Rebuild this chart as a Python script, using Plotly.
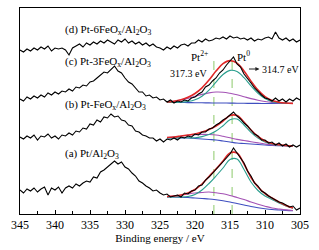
import plotly.graph_objects as go

# ---------------- data ----------------
BE = [345 - 0.5 * i for i in range(81)]          # binding energy grid, eV

spec_a = [24, 21, 25, 23, 26, 22, 25, 27, 19, 26, 24, 27, 21, 26, 28,
          26, 30, 28, 31, 33, 32, 37, 36, 42, 44, 47, 50, 53, 50, 52,
          47, 45, 41, 38, 33, 31, 28, 26, 23, 24, 21, 19, 20, 17, 18,
          19, 17, 21, 20, 23, 24, 28, 29, 34, 37, 41, 44, 49, 52, 57,
          60, 66, 61, 57, 51, 43, 38, 31, 28, 23, 21, 18, 16, 14, 12,
          11, 9, 7, 8, 4, 6]
spec_b = [77, 75, 78, 76, 79, 74, 78, 77, 80, 76, 78, 75, 79, 78, 81,
          79, 83, 82, 86, 85, 90, 89, 94, 92, 97, 96, 100, 97, 98, 94,
          93, 89, 88, 83, 82, 79, 78, 76, 76, 73, 75, 72, 75, 74, 76,
          74, 77, 76, 78, 77, 80, 79, 82, 82, 85, 86, 89, 91, 94, 96,
          99, 102, 98, 95, 91, 88, 84, 80, 78, 74, 74, 71, 72, 69, 71,
          68, 70, 67, 69, 67, 69]
spec_c = [115, 113, 117, 115, 118, 116, 119, 117, 121, 119, 122, 120, 123, 122, 125,
          123, 127, 126, 129, 128, 132, 133, 136, 139, 142, 141, 145, 148, 143, 141,
          136, 132, 130, 126, 122, 122, 118, 119, 116, 117, 114, 115, 112, 114, 111,
          113, 112, 114, 113, 116, 117, 120, 122, 127, 129, 133, 136, 141, 144, 149,
          153, 157, 150, 147, 140, 136, 131, 126, 122, 119, 116, 115, 113, 116, 113,
          115, 112, 115, 113, 116, 114]
spec_d = [164, 162, 165, 163, 166, 164, 167, 165, 168, 163, 166, 165, 166, 164, 159,
          166, 168, 170, 167, 171, 169, 172, 170, 173, 171, 174, 172, 170, 174, 172,
          175, 171, 173, 170, 172, 169, 171, 168, 170, 167, 166, 164, 167, 165, 168,
          166, 169, 170, 168, 171, 171, 174, 172, 175, 173, 174, 176, 175, 177, 175,
          178, 176, 177, 175, 176, 174, 176, 173, 175, 174, 176, 177, 175, 182, 176,
          174, 176, 173, 175, 172, 174]

FIT_BE = [324, 323, 322, 321, 320, 319, 318, 317, 316, 315,
          314, 313, 312, 311, 310, 309, 308, 307, 306]

base_a = [17, 17, 16.8, 16.5, 16, 15.5, 15, 14.2, 13.2, 12, 10.5, 9, 7.5, 6.3, 5.3, 4.5, 4, 3.6, 3.3]
pt2_a = [17.5, 18, 18.8, 20, 21, 21.5, 22, 21.2, 20.2, 18.5, 16.5, 14.5, 12, 9.8, 7.8, 6, 5, 4.1, 3.5]
pt0_a = [17, 17, 17, 17.5, 19.5, 24, 30.5, 38, 46, 54.5, 55, 44.5, 32, 23.5, 18, 14.5, 11, 8, 5.8]
sum_a = [17.5, 18, 19, 21, 24.5, 30, 37.5, 45, 53, 61, 61, 50, 36.5, 27, 20.5, 16, 12, 8.5, 6]

base_b = [76, 76, 76, 76, 75.5, 75, 74.5, 74, 73, 72, 71, 70.5, 70, 69.5, 69, 68.5, 68.3, 68.2, 68]
pt2_b = [76.5, 77, 77.8, 78.8, 79.3, 79.6, 79.5, 79, 77.7, 76.2, 74.6, 73.5, 72.3, 71.1, 70, 69.1, 68.6, 68.3, 68]
pt0_b = [76, 76, 76.2, 76.2, 76.2, 77.4, 79.5, 83, 88.3, 94.3, 94.9, 89, 81.7, 75.9, 72, 69.9, 68.9, 68.4, 68]
sum_b = [76.5, 77, 78, 79, 80, 82, 84.5, 88, 93, 98.5, 98.5, 92, 84, 77.5, 73, 70.5, 69.2, 68.5, 68]

base_c = [111.5, 111.5, 111.5, 111.4, 111.3, 111.2, 111.1, 111, 111, 110.9,
          110.8, 110.7, 110.6, 110.6, 110.5, 110.5, 110.5, 110.5, 110.5]
pt2_c = [112, 112.7, 114, 115.6, 117.6, 119.6, 121.1, 122, 121.8, 120.7,
         119.2, 117.3, 115.4, 113.8, 112.5, 111.6, 111.1, 110.8, 110.6]
pt0_c = [111.5, 111.6, 111.8, 112.5, 114.2, 117.8, 123.9, 131.9, 139.5, 143.6,
         142.4, 136.4, 128.1, 120.7, 115.4, 112.4, 111.2, 110.7, 110.5]
sum_c = [112, 112.8, 114.3, 116.7, 120.5, 126.2, 133.9, 142.9, 150.3, 153.4,
         150.8, 143, 132.9, 123.9, 117.4, 113.5, 111.8, 111, 110.6]

LABELS = ["(a) Pt/Al<sub>2</sub>O<sub>3</sub>",
          "(b) Pt-FeO<sub>x</sub>/Al<sub>2</sub>O<sub>3</sub>",
          "(c) Pt-3FeO<sub>x</sub>/Al<sub>2</sub>O<sub>3</sub>",
          "(d) Pt-6FeO<sub>x</sub>/Al<sub>2</sub>O<sub>3</sub>"]
LABEL_Y = [60, 109, 152, 184]
PT2_BE = 317.3
PT0_BE = 314.7
X_TICKS = [345, 340, 335, 330, 325, 320, 315, 310, 305]

# ---------------- figure ----------------
C_BASE = "#3f4fc0"
C_PT2 = "#a453b5"
C_PT0 = "#2a9e8e"
C_SUM = "#e02828"
C_DASH = "#8cc96a"
SERIF = "Liberation Serif, Times New Roman, serif"

fig = go.Figure()

for base, pt2, pt0, tot in [(base_a, pt2_a, pt0_a, sum_a),
                            (base_b, pt2_b, pt0_b, sum_b),
                            (base_c, pt2_c, pt0_c, sum_c)]:
    for ys, col, w in [(base, C_BASE, 1.1), (pt2, C_PT2, 1.1), (pt0, C_PT0, 1.1), (tot, C_SUM, 1.6)]:
        fig.add_trace(go.Scatter(x=FIT_BE, y=ys, mode="lines",
                                 line=dict(color=col, width=w, shape="spline"),
                                 hoverinfo="skip"))

for spec in [spec_a, spec_b, spec_c, spec_d]:
    fig.add_trace(go.Scatter(x=BE, y=spec, mode="lines",
                             line=dict(color="black", width=1.1)))

for be in [PT2_BE, PT0_BE]:
    fig.add_shape(type="line", xref="x", yref="y", x0=be, x1=be, y0=0, y1=161,
                  line=dict(color=C_DASH, width=1, dash="dash"), layer="below")

for txt, yv in zip(LABELS, LABEL_Y):
    fig.add_annotation(x=338.9, y=yv, text=txt, showarrow=False, xanchor="left",
                       yanchor="middle", font=dict(family=SERIF, size=11, color="black"))

fig.add_annotation(x=319.3, y=158, text="Pt<sup>2+</sup>", showarrow=False,
                   font=dict(family=SERIF, size=11, color="black"))
fig.add_annotation(x=313.1, y=158, text="Pt<sup>0</sup>", showarrow=False,
                   font=dict(family=SERIF, size=11, color="black"))
fig.add_annotation(x=320.9, y=141, text="317.3 eV", showarrow=False,
                   font=dict(family=SERIF, size=10, color="black"))
fig.add_annotation(x=310.7, y=145, text="314.7 eV", showarrow=False, xanchor="left",
                   font=dict(family=SERIF, size=10, color="black"))
fig.add_annotation(x=310.8, y=145, ax=312.5, ay=145, axref="x", ayref="y",
                   text="", showarrow=True, arrowhead=2, arrowsize=0.8,
                   arrowwidth=1, arrowcolor="#222222")

fig.update_layout(
    width=319, height=250,
    margin=dict(l=20, r=19, t=8, b=36),
    paper_bgcolor="white", plot_bgcolor="white",
    showlegend=False,
    font=dict(family=SERIF, color="black"),
    xaxis=dict(range=[345, 305], tickvals=X_TICKS, ticks="inside", ticklen=4,
               tickcolor="black", showline=True, linecolor="black", linewidth=1,
               mirror=True, showgrid=False, zeroline=False,
               minor=dict(dtick=2.5, ticks="inside", ticklen=3, tickcolor="black", showgrid=False),
               tickfont=dict(family=SERIF, size=12, color="black"),
               title=dict(text="Binding energy / eV", standoff=2,
                          font=dict(family=SERIF, size=11, color="black"))),
    yaxis=dict(range=[0, 206], showticklabels=False, ticks="", showline=True,
               linecolor="black", linewidth=1, mirror=True, showgrid=False, zeroline=False),
)

fig.write_html("out.html", config={"displayModeBar": False},
               post_script="document.body.style.margin='0';document.body.style.overflow='hidden';")
